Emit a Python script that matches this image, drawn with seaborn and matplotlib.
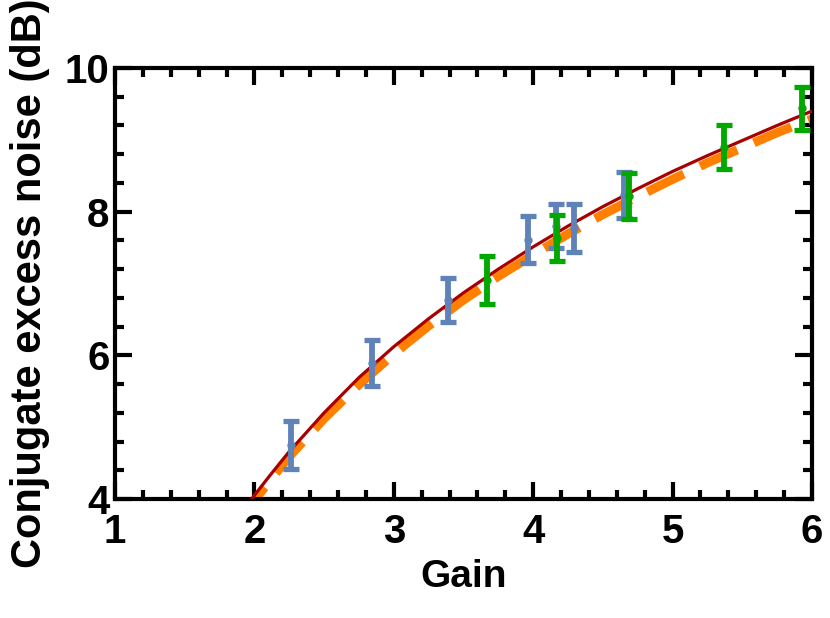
import matplotlib
matplotlib.use('Agg')
import matplotlib.pyplot as plt
from matplotlib.ticker import MultipleLocator
import seaborn as sns
import pandas as pd

# theory curves
gain_theory = [1.9, 2.0, 2.1, 2.25, 2.5, 2.75, 3.0, 3.25, 3.5, 3.75,
               4.0, 4.25, 4.5, 4.75, 5.0, 5.25, 5.5, 5.75, 6.0]
noise_fit = [3.78, 4.05, 4.30, 4.66, 5.20, 5.69, 6.12, 6.51, 6.87, 7.20,
             7.51, 7.80, 8.07, 8.32, 8.56, 8.78, 8.99, 9.20, 9.40]
noise_model = [3.71, 3.98, 4.23, 4.59, 5.12, 5.59, 6.02, 6.41, 6.77, 7.10,
               7.40, 7.69, 7.96, 8.21, 8.45, 8.68, 8.89, 9.10, 9.29]

# measured points
gain_blue = [2.26, 2.84, 3.39, 3.96, 4.16, 4.29, 4.65]
noise_blue = [4.75, 5.89, 6.77, 7.61, 7.80, 7.77, 8.23]
err_blue = [0.33, 0.32, 0.31, 0.33, 0.31, 0.33, 0.32]

gain_green = [3.67, 4.17, 4.69, 5.37, 5.93]
noise_green = [7.05, 7.63, 8.22, 8.90, 9.44]
err_green = [0.33, 0.32, 0.32, 0.30, 0.30]

c_red = '#A80000'
c_orange = '#FF8000'
c_blue = '#5F82B9'
c_green = '#00A800'

sns.set_style('ticks')
plt.rcParams['font.family'] = ['Liberation Sans', 'DejaVu Sans']
plt.rcParams['font.weight'] = 'bold'
for key in ['text.color', 'axes.labelcolor', 'xtick.color', 'ytick.color', 'axes.edgecolor']:
    plt.rcParams[key] = 'black'

theory = pd.DataFrame({'Gain': gain_theory, 'fit': noise_fit, 'model': noise_model})

fig = plt.figure(figsize=(8.3, 6.18), dpi=100)
ax = fig.add_axes([0.1386, 0.1926, 0.8397, 0.6974])

# dashed orange model curve under the solid red one
sns.lineplot(data=theory, x='Gain', y='model', ax=ax, color=c_orange, lw=6.5, zorder=2)
ax.lines[-1].set_dashes([4.5, 2.0])
ax.lines[-1].set_dash_capstyle('butt')
sns.lineplot(data=theory, x='Gain', y='fit', ax=ax, color=c_red, lw=2.3, zorder=3)

# error bars: blue first, green on top
ax.errorbar(gain_blue, noise_blue, yerr=err_blue, fmt='o', ms=5, color=c_blue,
            elinewidth=4.2, capsize=5.5, capthick=3.8, zorder=4)
ax.errorbar(gain_green, noise_green, yerr=err_green, fmt='o', ms=5, color=c_green,
            elinewidth=4.2, capsize=5.5, capthick=3.8, zorder=5)

ax.set_xlim(1, 6)
ax.set_ylim(4, 10)
ax.xaxis.set_major_locator(MultipleLocator(1))
ax.xaxis.set_minor_locator(MultipleLocator(0.2))
ax.yaxis.set_major_locator(MultipleLocator(2))
ax.yaxis.set_minor_locator(MultipleLocator(0.4))

ax.tick_params(which='both', direction='in', top=True, right=True, width=3, color='black')
ax.tick_params(which='major', length=12, labelsize=29)
ax.tick_params(which='minor', length=6.5)
ax.tick_params(axis='x', pad=10)
ax.tick_params(axis='y', pad=4)
for lab in ax.get_xticklabels() + ax.get_yticklabels():
    lab.set_fontweight('bold')
for sp in ax.spines.values():
    sp.set_linewidth(3)
    sp.set_color('black')

ax.set_xlabel('Gain', fontsize=28, fontweight='bold', labelpad=6)
ax.set_ylabel('Conjugate excess noise (dB)', fontsize=30, fontweight='bold')
ax.yaxis.set_label_coords(-0.094, 0.5)

fig.savefig('out.png', dpi=100)
